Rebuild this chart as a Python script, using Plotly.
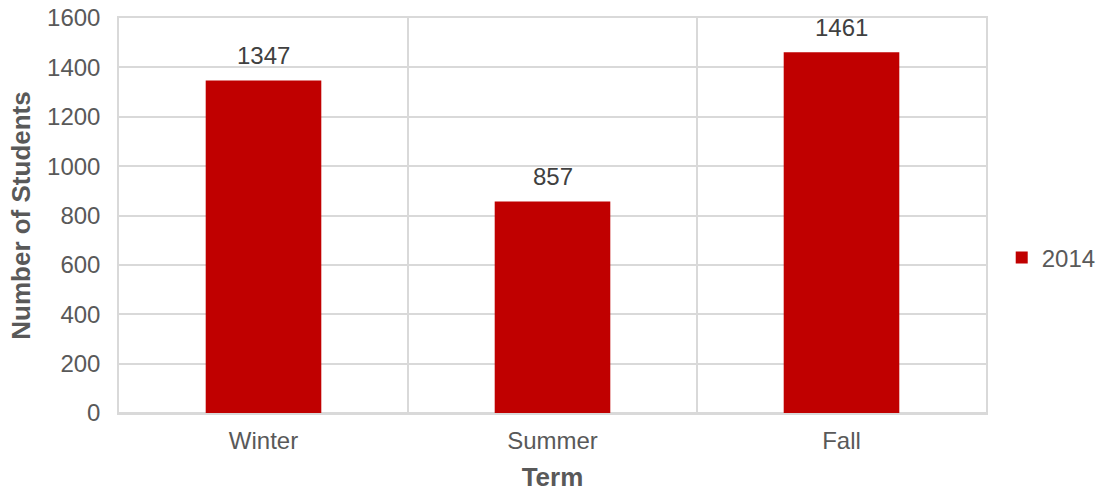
import plotly.graph_objects as go

terms = ["Winter", "Summer", "Fall"]
students_2014 = [1347, 857, 1461]
series_name = "2014"

FONT = "Liberation Sans, Arial, sans-serif"
GRID = "#d9d9d9"

fig = go.Figure()
fig.add_trace(go.Bar(
    x=terms, y=students_2014, name=series_name,
    marker=dict(color="#c00000", line=dict(width=0)),
    showlegend=True,
))

for t, v in zip(terms, students_2014):
    fig.add_annotation(x=t, y=v, text=str(v), showarrow=False,
                       yanchor="bottom", yshift=9,
                       font=dict(family=FONT, size=24, color="#404040"))

fig.update_layout(
    width=1102, height=492,
    margin=dict(l=119, r=116, t=18, b=79, autoexpand=False),
    paper_bgcolor="white", plot_bgcolor="white",
    bargap=0.6,
    font=dict(family=FONT, size=24, color="#595959"),
    showlegend=True,
    legend=dict(xref="container", yref="container", x=0.909, y=0.476,
                xanchor="left", yanchor="middle",
                font=dict(size=24, color="#595959"), itemwidth=30),
    xaxis=dict(
        title=dict(text="<b>Term</b>", font=dict(size=26, color="#595959"), standoff=16),
        tickson="boundaries", showgrid=True, gridcolor=GRID, gridwidth=1.5,
        ticks="", tickfont=dict(size=24, color="#595959"), ticklabelstandoff=5,
        showline=True, mirror=True, linecolor=GRID, linewidth=1.5, zeroline=False,
    ),
    yaxis=dict(
        title=dict(text="<b>Number of Students</b>", font=dict(size=26, color="#595959"), standoff=9),
        range=[0, 1600], dtick=200, showgrid=True, gridcolor=GRID, gridwidth=1.5,
        zeroline=True, zerolinecolor=GRID, zerolinewidth=1.5,
        ticks="", tickfont=dict(size=24, color="#595959"), ticklabelstandoff=12,
        showline=True, mirror=True, linecolor=GRID, linewidth=1.5,
    ),
)

fig.write_html("out.html")
